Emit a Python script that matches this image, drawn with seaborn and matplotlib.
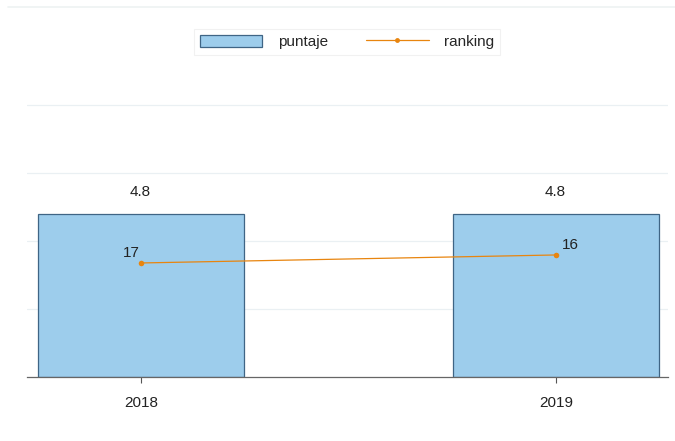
import matplotlib
matplotlib.use("Agg")
import matplotlib.pyplot as plt
import pandas as pd
import seaborn as sns
from matplotlib.lines import Line2D
from matplotlib.patches import Patch

sns.set_theme(style="white")
plt.rcParams["font.family"] = ["Liberation Sans", "DejaVu Sans"]

years = ["2018", "2019"]
puntaje = [4.8, 4.8]
ranking = [17, 16]

bar_color = "#9dcdec"
bar_edge = "#3f6585"
line_color = "#e8850f"
fs = 11

df = pd.DataFrame({"year": years, "puntaje": puntaje, "ranking": ranking})

fig = plt.figure(figsize=(6.75, 4.41), dpi=100)
ax = fig.add_axes([0.04, 0.145, 0.95, 0.674])

sns.barplot(data=df, x="year", y="puntaje", color=bar_color, width=0.496,
            edgecolor=bar_edge, linewidth=0.9, saturation=1, ax=ax)

ax.set_xlim(-0.275, 1.27)
ax.set_ylim(0, 8.74)
ax.set_yticks([2, 4, 6, 8])
ax.yaxis.grid(True, color="#eaf0f3", linewidth=0.9)
ax.set_axisbelow(True)
ax.set_xlabel("")
ax.set_ylabel("")
for side in ["left", "right", "top"]:
    ax.spines[side].set_visible(False)
ax.spines["bottom"].set_color("#666666")
ax.spines["bottom"].set_linewidth(0.9)

for i, v in enumerate(puntaje):
    ax.annotate(f"{v:.1f}", (i, v), xytext=(-1, 11), textcoords="offset points",
                ha="center", va="bottom", fontsize=fs, color="#222222")

# ranking on a hidden, inverted secondary axis (lower rank = higher point)
ax2 = ax.twinx()
sns.lineplot(data=df, x="year", y="ranking", color=line_color, linewidth=0.9,
             marker="o", markersize=4, markeredgewidth=0, ax=ax2)
ax2.set_ylim(31.25, -5.875)
ax2.set_xlim(-0.275, 1.27)
ax2.axis("off")

ax.tick_params(axis="y", left=False, right=False, labelleft=False, labelright=False)
ax.tick_params(axis="x", bottom=True, length=4, width=0.8, color="#555555",
               labelsize=fs, pad=10, labelcolor="#222222")

offsets = [(-1, 2), (4, 2)]
aligns = ["right", "left"]
for i, r in enumerate(ranking):
    ax2.annotate(str(r), (i, r), xytext=offsets[i], textcoords="offset points",
                 ha=aligns[i], va="bottom", fontsize=fs, color="#222222")

handles = [
    Patch(facecolor=bar_color, edgecolor=bar_edge, linewidth=0.9),
    Line2D([0], [0], color=line_color, linewidth=0.9, marker="o", markersize=3.5,
           markeredgewidth=0),
]
leg = fig.legend(handles, ["puntaje", "ranking"], loc="center",
                 bbox_to_anchor=(0.514, 0.905), ncol=2, fontsize=fs,
                 frameon=True, fancybox=False, handlelength=4.1, handleheight=0.8,
                 columnspacing=2.5, handletextpad=1.0, borderpad=0.4)
leg.get_frame().set_edgecolor("#eeeeee")
leg.get_frame().set_linewidth(0.8)

fig.add_artist(Line2D([0.012, 1.0], [0.984, 0.984], color="#eef2f2", linewidth=1.2))

fig.savefig("out.png", dpi=100)
